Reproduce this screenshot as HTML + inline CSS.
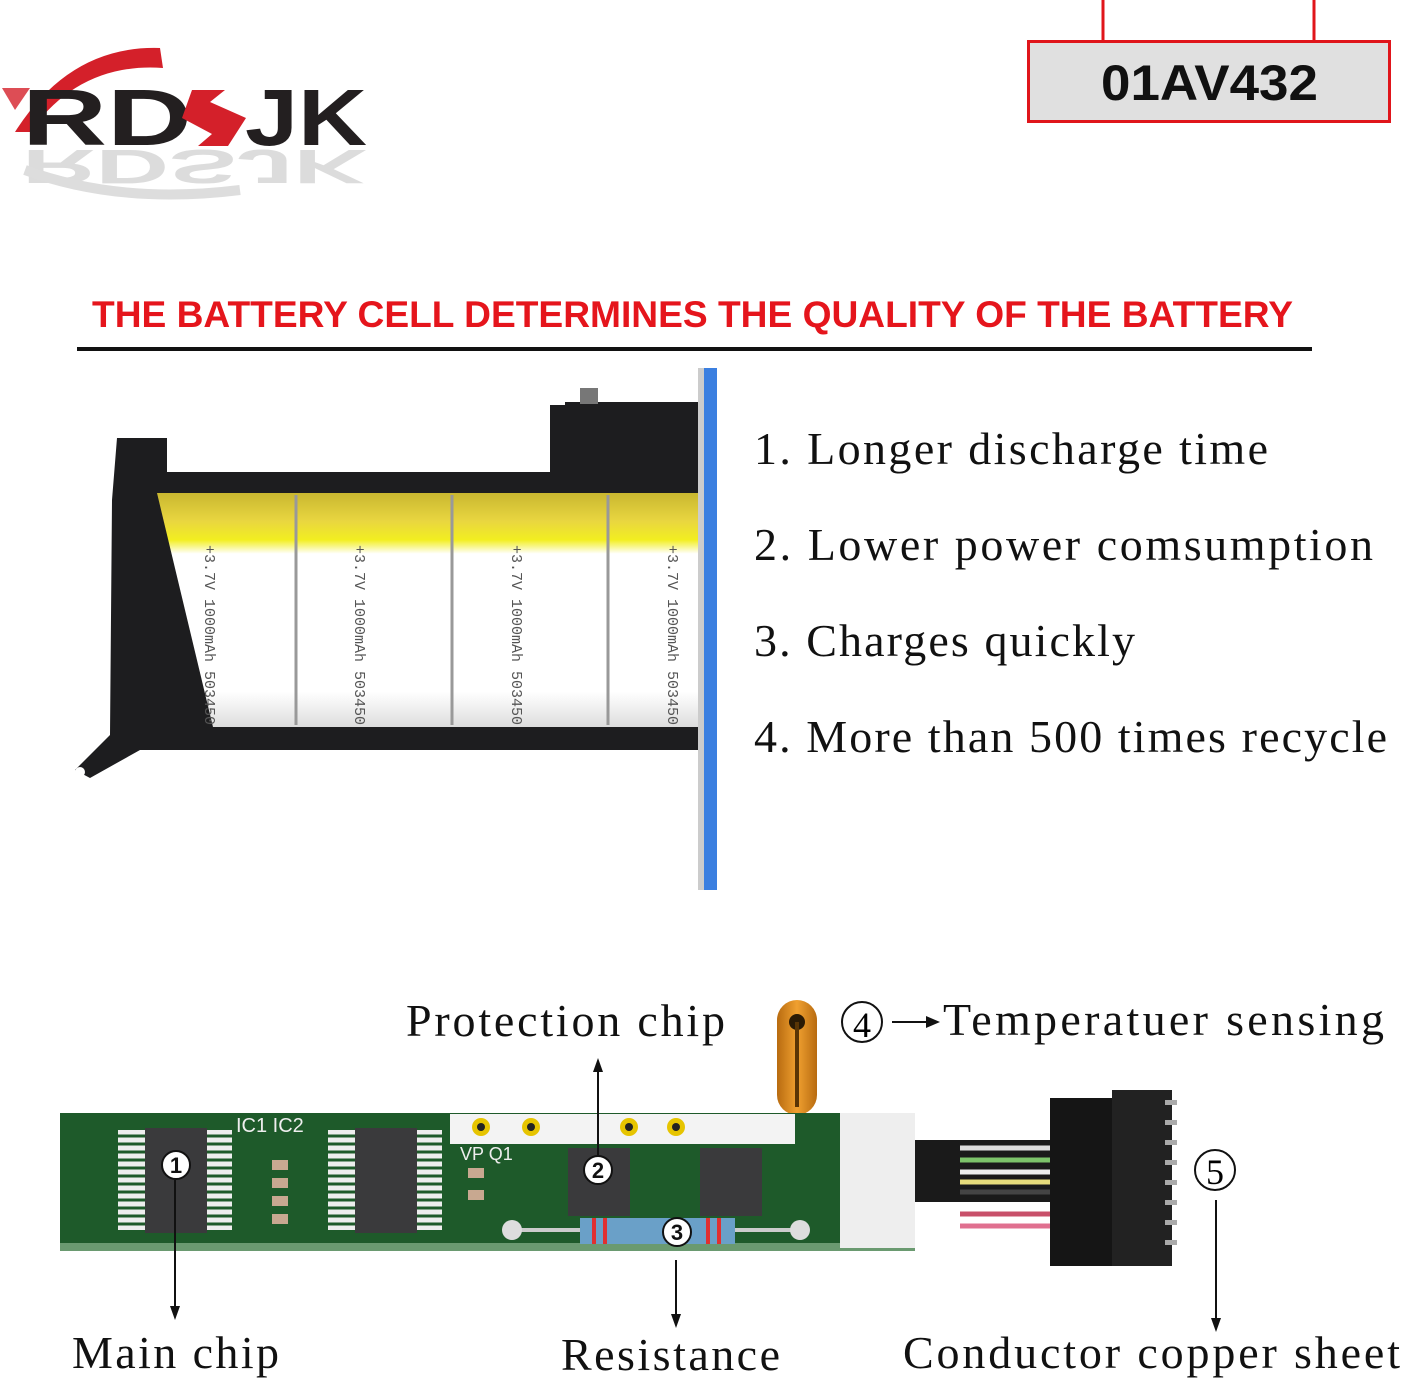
<!DOCTYPE html>
<html><head><meta charset="utf-8"><style>
html,body{margin:0;padding:0;background:#fff;}
svg{display:block}
</style></head><body>
<svg width="1403" height="1381" viewBox="0 0 1403 1381" xmlns="http://www.w3.org/2000/svg">
<defs>
<linearGradient id="cell" x1="0" y1="0" x2="0" y2="1">
<stop offset="0" stop-color="#c9b730"/><stop offset="0.12" stop-color="#e9d640"/><stop offset="0.2" stop-color="#f2ee20"/><stop offset="0.26" stop-color="#fff"/><stop offset="0.85" stop-color="#fff"/><stop offset="1" stop-color="#ddd"/>
</linearGradient>
<linearGradient id="orange" x1="0" y1="0" x2="1" y2="0">
<stop offset="0" stop-color="#b86b10"/><stop offset="0.5" stop-color="#f0a030"/><stop offset="1" stop-color="#b86b10"/>
</linearGradient>
</defs>
<!-- logo reflection -->
<text x="22" y="145" textLength="345" lengthAdjust="spacingAndGlyphs" font-family="Liberation Sans, sans-serif" font-weight="bold" font-size="80" fill="#bbb" opacity="0.5" transform="matrix(1,0,0,-0.6,0,237)">RDSJK</text>
<path d="M25,170 Q120,205 240,190" fill="none" stroke="#ddd" stroke-width="10"/>
<!-- logo -->
<path d="M15,132 Q70,45 160,48 L163,68 Q80,62 30,132 Z" fill="#d4202a"/>
<path d="M2,88 L30,88 L15,110 Z" fill="#d4202a" opacity="0.8"/>
<text x="22" y="145" textLength="170" lengthAdjust="spacingAndGlyphs" font-family="Liberation Sans, sans-serif" font-weight="bold" font-size="80" fill="#231f20">RD</text>
<path d="M192,90 L225,90 L210,102 L246,118 L228,146 L198,146 L212,134 L182,118 Z" fill="#d4202a"/>
<text x="245" y="145" textLength="122" lengthAdjust="spacingAndGlyphs" font-family="Liberation Sans, sans-serif" font-weight="bold" font-size="80" fill="#231f20">JK</text>
<!-- part box -->
<line x1="1103" y1="0" x2="1103" y2="40" stroke="#e0151b" stroke-width="3"/>
<line x1="1314" y1="0" x2="1314" y2="40" stroke="#e0151b" stroke-width="3"/>
<rect x="1028.5" y="41.5" width="361" height="80" fill="#e0e0e0" stroke="#e0151b" stroke-width="3"/>
<text x="1101" y="100" textLength="217" lengthAdjust="spacingAndGlyphs" font-family="Liberation Sans, sans-serif" font-weight="bold" font-size="50" fill="#111">01AV432</text>
<!-- heading -->
<text x="92" y="327" textLength="1201" lengthAdjust="spacingAndGlyphs" font-family="Liberation Sans, sans-serif" font-weight="bold" font-size="37" fill="#e5151c">THE BATTERY CELL DETERMINES THE QUALITY OF THE BATTERY</text>
<rect x="77" y="347" width="1235" height="4" fill="#111"/>
<!-- battery -->
<path d="M117,438 L167,438 L167,472 L550,472 L550,405 L565,405 L565,402 L704,402 L704,750 L140,750 L90,778 L75,770 L110,735 L112,500 Z" fill="#1d1d1f"/>
<rect x="580" y="388" width="18" height="16" fill="#777"/>
<circle cx="80" cy="772" r="5" fill="#fff"/>
<path d="M157,493 L704,493 L704,727 L213,727 Z" fill="url(#cell)"/>
<g stroke="#999" stroke-width="3"><line x1="296" y1="495" x2="296" y2="725"/><line x1="452" y1="495" x2="452" y2="725"/><line x1="608" y1="495" x2="608" y2="725"/></g>
<g font-family="Liberation Mono, monospace" font-size="15" fill="#555">
<text transform="translate(205,545) rotate(90)">+3.7V 1000mAh 503450</text>
<text transform="translate(355,545) rotate(90)">+3.7V 1000mAh 503450</text>
<text transform="translate(512,545) rotate(90)">+3.7V 1000mAh 503450</text>
<text transform="translate(668,545) rotate(90)">+3.7V 1000mAh 503450</text>
</g>
<rect x="704" y="368" width="13" height="522" fill="#3b7fe0"/>
<rect x="698" y="368" width="6" height="522" fill="#ccc"/>
<!-- list -->
<g font-family="Liberation Serif, serif" font-size="46" fill="#111" lengthAdjust="spacingAndGlyphs">
<text x="754" y="464" textLength="514">1. Longer discharge time</text>
<text x="754" y="560" textLength="619">2. Lower power comsumption</text>
<text x="754" y="656" textLength="381">3. Charges quickly</text>
<text x="754" y="752" textLength="633">4. More than 500 times recycle</text>
<text x="406" y="1036" textLength="319">Protection chip</text>
<text x="943" y="1035" textLength="441">Temperatuer sensing</text>
<text x="72" y="1368" textLength="207">Main chip</text>
<text x="561" y="1370" textLength="219">Resistance</text>
<text x="903" y="1368" textLength="497">Conductor copper sheet</text>
</g>
<!-- sensor -->
<rect x="777" y="1000" width="40" height="115" rx="20" fill="url(#orange)"/>
<circle cx="797" cy="1022" r="8" fill="#2a1a05"/>
<rect x="795" y="1022" width="4" height="85" fill="#5a3505"/>
<circle cx="862" cy="1022" r="20" fill="none" stroke="#111" stroke-width="2"/>
<text x="862" y="1037" text-anchor="middle" font-family="Liberation Serif, serif" font-size="36">4</text>
<line x1="892" y1="1022" x2="928" y2="1022" stroke="#111" stroke-width="2"/>
<path d="M940,1022 L926,1016 L926,1028 Z" fill="#111"/>
<!-- cable + connector -->
<rect x="915" y="1140" width="145" height="62" fill="#1a1a1a"/>
<g stroke-width="5"><line x1="960" y1="1148" x2="1060" y2="1148" stroke="#ddd"/><line x1="960" y1="1160" x2="1060" y2="1160" stroke="#7cc36a"/><line x1="960" y1="1172" x2="1060" y2="1172" stroke="#eee"/><line x1="960" y1="1182" x2="1060" y2="1182" stroke="#e6dc7c"/><line x1="960" y1="1192" x2="1060" y2="1192" stroke="#444"/><line x1="960" y1="1214" x2="1060" y2="1214" stroke="#c8506a"/><line x1="960" y1="1226" x2="1060" y2="1226" stroke="#e07090"/></g>
<rect x="1050" y="1098" width="62" height="168" fill="#151515"/>
<rect x="1112" y="1090" width="60" height="176" fill="#222"/>
<g fill="#aaa"><rect x="1165" y="1100" width="12" height="5"/><rect x="1165" y="1120" width="12" height="5"/><rect x="1165" y="1140" width="12" height="5"/><rect x="1165" y="1160" width="12" height="5"/><rect x="1165" y="1180" width="12" height="5"/><rect x="1165" y="1200" width="12" height="5"/><rect x="1165" y="1220" width="12" height="5"/><rect x="1165" y="1240" width="12" height="5"/></g>
<circle cx="1215" cy="1170" r="20" fill="none" stroke="#111" stroke-width="2"/>
<text x="1215" y="1184" text-anchor="middle" font-family="Liberation Serif, serif" font-size="36">5</text>
<!-- PCB -->
<rect x="60" y="1113" width="855" height="137" fill="#1e5a2a"/>
<rect x="60" y="1243" width="855" height="8" fill="#6a9a70"/>
<rect x="840" y="1113" width="75" height="135" fill="#eee"/>
<rect x="450" y="1114" width="345" height="30" fill="#f3f3f3"/>
<g fill="#e6c400"><circle cx="481" cy="1127" r="9"/><circle cx="531" cy="1127" r="9"/><circle cx="629" cy="1127" r="9"/><circle cx="676" cy="1127" r="9"/></g>
<g fill="#222"><circle cx="481" cy="1127" r="4"/><circle cx="531" cy="1127" r="4"/><circle cx="629" cy="1127" r="4"/><circle cx="676" cy="1127" r="4"/></g>
<text x="236" y="1132" font-family="Liberation Sans, sans-serif" font-size="20" fill="#eee">IC1 IC2</text>
<text x="460" y="1160" font-family="Liberation Sans, sans-serif" font-size="18" fill="#eee">VP Q1</text>
<g fill="#eee"><rect x="118" y="1130" width="32" height="100"/><rect x="200" y="1130" width="32" height="100"/><rect x="328" y="1130" width="30" height="100"/><rect x="412" y="1130" width="30" height="100"/></g>
<g stroke="#1e5a2a" stroke-width="3"><path d="M118,1136 H150 M118,1144 H150 M118,1152 H150 M118,1160 H150 M118,1168 H150 M118,1176 H150 M118,1184 H150 M118,1192 H150 M118,1200 H150 M118,1208 H150 M118,1216 H150 M118,1224 H150"/><path d="M200,1136 H232 M200,1144 H232 M200,1152 H232 M200,1160 H232 M200,1168 H232 M200,1176 H232 M200,1184 H232 M200,1192 H232 M200,1200 H232 M200,1208 H232 M200,1216 H232 M200,1224 H232"/><path d="M328,1136 H442 M328,1144 H442 M328,1152 H442 M328,1160 H442 M328,1168 H442 M328,1176 H442 M328,1184 H442 M328,1192 H442 M328,1200 H442 M328,1208 H442 M328,1216 H442 M328,1224 H442"/></g>
<rect x="145" y="1128" width="62" height="105" fill="#3a3a3c"/>
<rect x="355" y="1128" width="62" height="105" fill="#3a3a3c"/>
<rect x="568" y="1148" width="62" height="68" fill="#3a3a3c"/>
<rect x="700" y="1148" width="62" height="68" fill="#3a3a3c"/>
<g fill="#c8a890"><rect x="272" y="1160" width="16" height="10"/><rect x="272" y="1178" width="16" height="10"/><rect x="272" y="1196" width="16" height="10"/><rect x="272" y="1214" width="16" height="10"/><rect x="468" y="1168" width="16" height="10"/><rect x="468" y="1190" width="16" height="10"/></g>
<line x1="512" y1="1230" x2="800" y2="1230" stroke="#ccc" stroke-width="4"/>
<circle cx="512" cy="1230" r="10" fill="#ddd"/><circle cx="800" cy="1230" r="10" fill="#ddd"/>
<rect x="580" y="1218" width="155" height="26" fill="#6aa0c8"/>
<g fill="#e03030"><rect x="592" y="1218" width="4" height="26"/><rect x="603" y="1218" width="4" height="26"/><rect x="706" y="1218" width="4" height="26"/><rect x="717" y="1218" width="4" height="26"/></g>
<g fill="#fff" stroke="#111" stroke-width="2"><circle cx="176" cy="1165" r="14"/><circle cx="598" cy="1170" r="14"/><circle cx="677" cy="1232" r="14"/></g>
<g font-family="Liberation Sans, sans-serif" font-weight="bold" font-size="22" fill="#111" text-anchor="middle"><text x="176" y="1173">1</text><text x="598" y="1178">2</text><text x="677" y="1240">3</text></g>
<g stroke="#111" stroke-width="2"><line x1="598" y1="1070" x2="598" y2="1155"/><line x1="175" y1="1180" x2="175" y2="1310"/><line x1="676" y1="1260" x2="676" y2="1318"/><line x1="1216" y1="1200" x2="1216" y2="1322"/></g>
<g fill="#111"><path d="M598,1058 L593,1072 L603,1072 Z"/><path d="M175,1320 L170,1306 L180,1306 Z"/><path d="M676,1328 L671,1314 L681,1314 Z"/><path d="M1216,1332 L1211,1318 L1221,1318 Z"/></g>
</svg>
</body></html>
